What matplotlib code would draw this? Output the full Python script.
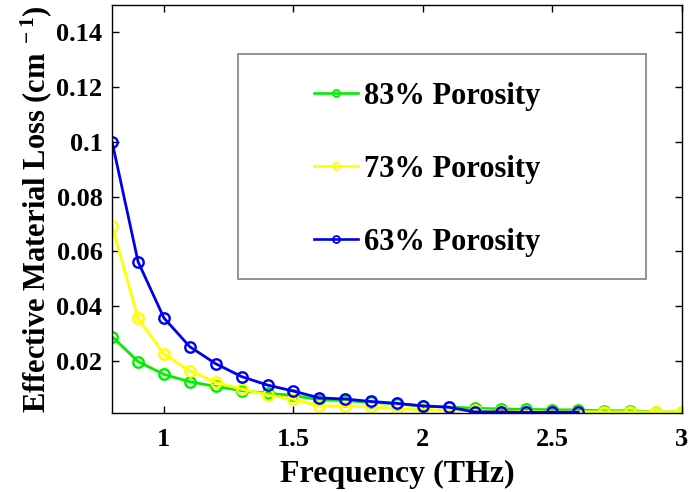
import matplotlib
matplotlib.use("Agg")
import matplotlib.pyplot as plt
from matplotlib.patches import Rectangle
from matplotlib.lines import Line2D
from matplotlib.ticker import FixedLocator, FuncFormatter

plt.rcParams['font.family'] = ['Liberation Serif', 'DejaVu Serif']
plt.rcParams['font.weight'] = 'bold'
plt.rcParams['mathtext.fontset'] = 'custom'
plt.rcParams['mathtext.rm'] = 'Liberation Serif:bold'
plt.rcParams['mathtext.bf'] = 'Liberation Serif:bold'
plt.rcParams['mathtext.it'] = 'Liberation Serif:bold'
plt.rcParams['mathtext.default'] = 'rm'

freq_83 = [0.8, 0.9, 1.0, 1.1, 1.2, 1.3, 1.4, 1.5, 1.6, 1.7, 1.8, 1.9, 2.0, 2.1, 2.2, 2.3, 2.4, 2.5, 2.6, 2.7, 2.8, 2.9, 3.0]
loss_83 = [0.0289, 0.0198, 0.0151, 0.0124, 0.0107, 0.0092, 0.0082, 0.0074, 0.0058, 0.0055, 0.0049, 0.0043, 0.0035, 0.0032, 0.0027, 0.0025, 0.0023, 0.0022, 0.0021, 0.0018, 0.0018, 0.0014, 0.0014]

freq_73 = [0.8, 0.9, 1.0, 1.1, 1.2, 1.3, 1.4, 1.5, 1.6, 1.7, 1.8, 1.9, 2.0, 2.1, 2.2, 2.3, 2.4, 2.5, 2.6, 2.7, 2.8, 2.9, 3.0]
loss_73 = [0.0692, 0.0356, 0.0225, 0.0164, 0.0122, 0.0097, 0.0076, 0.0060, 0.0036, 0.0035, 0.0033, 0.0024, 0.0023, 0.0019, 0.0020, 0.0016, 0.0015, 0.0015, 0.0015, 0.0014, 0.0014, 0.0014, 0.0014]

freq_63 = [0.8, 0.9, 1.0, 1.1, 1.2, 1.3, 1.4, 1.5, 1.6, 1.7, 1.8, 1.9, 2.0, 2.1, 2.2, 2.3, 2.4, 2.5, 2.6]
loss_63 = [0.1000, 0.0563, 0.0357, 0.0252, 0.0190, 0.0143, 0.0112, 0.0090, 0.0065, 0.0061, 0.0052, 0.0045, 0.0036, 0.0031, 0.0014, 0.0014, 0.0012, 0.0013, 0.0013]

labels = ['83% Porosity', '73% Porosity', '63% Porosity']
colors = ['#00ee00', '#ffff00', '#0000ee']

x_ticks = [1, 1.5, 2, 2.5, 3]
y_ticks = [0.02, 0.04, 0.06, 0.08, 0.1, 0.12, 0.14]

fig = plt.figure(figsize=(6.88, 4.92), dpi=100)
ax = fig.add_axes([0.163, 0.1606, 0.828, 0.829])

series = [(freq_83, loss_83), (freq_73, loss_73), (freq_63, loss_63)]
handles = []
for (x, y), lab, c in zip(series, labels, colors):
    ax.plot(x, y, '-o', color=c, lw=2.0, ms=7.5, mfc='none', mew=1.7, label=lab)
    handles.append(Line2D([], [], color=c, lw=1.9, marker='o', ms=5,
                          mfc='none', mew=1.3, label=lab))

ax.set_xlim(0.8, 3.0)
ax.set_ylim(0.001, 0.15)
ax.xaxis.set_major_locator(FixedLocator(x_ticks))
ax.yaxis.set_major_locator(FixedLocator(y_ticks))
ax.xaxis.set_major_formatter(FuncFormatter(lambda v, p: '%g' % v))
ax.yaxis.set_major_formatter(FuncFormatter(lambda v, p: '%g' % v))
ax.tick_params(direction='in', length=5, width=1, top=True, right=True,
               labelsize=19)
ax.tick_params(axis='x', pad=11)
ax.tick_params(axis='y', pad=7)
for lbl in ax.get_xticklabels() + ax.get_yticklabels():
    lbl.set_fontweight('bold')
for s in ax.spines.values():
    s.set_linewidth(1.0)

ax.set_xlabel('Frequency (THz)', fontsize=23, fontweight='bold', labelpad=6)
ax.set_ylabel(r'Effective Material Loss (cm$^{\ -1}$)', fontsize=22, fontweight='bold', labelpad=2)

rect = Rectangle((0.221, 0.328), 0.716, 0.552, transform=ax.transAxes,
                 facecolor='white', edgecolor='#808080', lw=1.2, zorder=5)
ax.add_patch(rect)

leg = ax.legend(handles=handles, loc='center left', bbox_to_anchor=(0.354, 0.597),
                frameon=False, borderpad=0, borderaxespad=0,
                labelspacing=1.44, handlelength=1.45, handletextpad=0.2,
                prop={'weight': 'bold', 'size': 22})
leg.set_zorder(6)

fig.savefig('out.png', dpi=100)
